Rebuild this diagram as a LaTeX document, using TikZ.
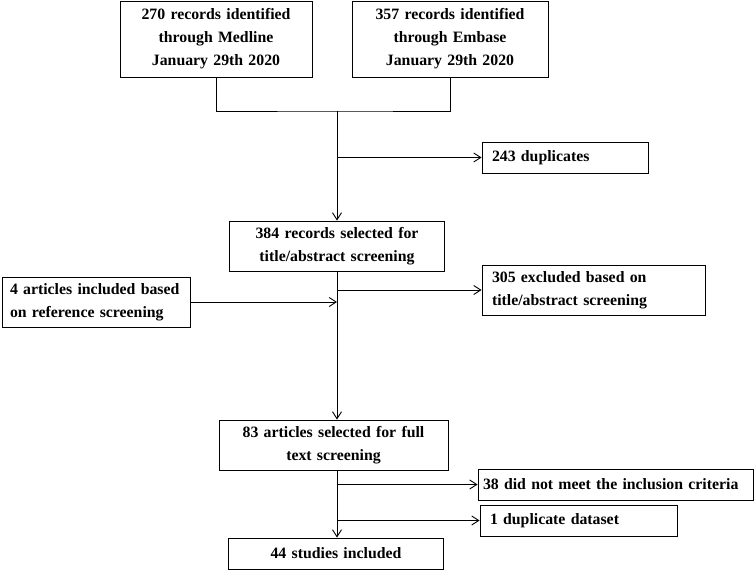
\documentclass[tikz,border=0pt]{standalone}
\usepackage{fontspec}
\setmainfont{Liberation Serif}
\usetikzlibrary{arrows.meta,positioning}
\hyphenpenalty=10000
\begin{document}
\begin{tikzpicture}[x=1pt,y=-1pt,line width=.9pt,>={Straight Barb[length=7pt,width=9pt]},font=\fontsize{15.8}{23}\selectfont\bfseries]
  \tikzset{box/.style={draw,inner ysep=0pt,anchor=center},
    cbox/.style={box,align=center,inner xsep=4pt},
    lbox/.style={box,align=left,inner xsep=10pt}}
  \useasboundingbox (0,0) rectangle (756,570);
  % search sources
  \node[cbox,text width=184pt,minimum height=76pt] (med) at (216,39) {270 records identified\\through Medline\\January 29th 2020};
  \node[cbox,text width=188pt,minimum height=76pt] (emb) at (450,39) {357 records identified\\through Embase\\January 29th 2020};
  \node[lbox,text width=146pt,minimum height=31pt] (dup) at (565,157.5) {243 duplicates};
  \node[cbox,text width=207pt,minimum height=50pt] (sel) at (337,246) {384 records selected for\\title/abstract screening};
  \node[lbox,text width=203pt,minimum height=50pt] (excl) at (593.5,290) {305 excluded based on\\title/abstract screening};
  \node[lbox,inner xsep=8pt,text width=172pt,minimum height=50pt] (ref) at (96,302) {4 articles included based\\on reference screening};
  \node[cbox,text width=221pt,minimum height=50pt] (full) at (333.5,445) {83 articles selected for full\\text screening};
  \node[lbox,inner xsep=5pt,text width=265pt,minimum height=31pt] (crit) at (615.5,484.5) {38 did not meet the inclusion criteria};
  \node[lbox,text width=177pt,minimum height=31pt] (dupd) at (578.5,520.5) {1 duplicate dataset};
  \node[cbox,text width=207pt,minimum height=31pt] (incl) at (336,553.5) {44 studies included};
  % connectors
  \coordinate (m) at (337,111);
  \draw (med.south) |- (m) -| (emb.south);
  \draw[->] (m) -- (sel.north);
  \draw[->] (m |- dup.west) -- (dup.west);
  \draw[->] (sel.south) -- (sel.south |- full.north);
  \draw[->] (sel.south |- excl.west) -- (excl.west);
  \draw[->] (ref.east) -- (sel.south |- ref.east);
  \draw[->] (sel.south |- full.south) -- (sel.south |- incl.north);
  \foreach \n in {crit,dupd}{
    \draw[->] (sel.south |- \n.west) -- (\n.west);}
\end{tikzpicture}
\end{document}
